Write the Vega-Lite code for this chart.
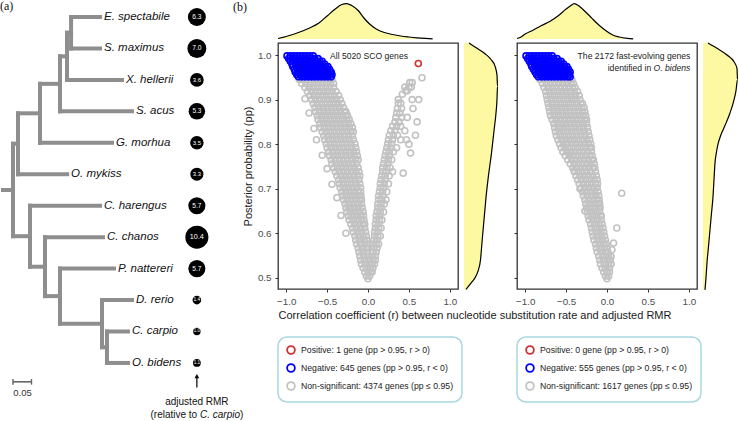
{
  "$schema": "https://vega.github.io/schema/vega-lite/v6.json",
  "padding": 0,
  "autosize": {"type": "pad"},
  "background": "white",
  "bounds": "flush",
  "spacing": 59,
  "resolve": {"scale": {"color": "independent", "size": "independent"}, "legend": {"color": "independent"}},
  "config": {
    "font": "Liberation Sans",
    "view": {"stroke": "#333333", "strokeWidth": 1.3},
    "axis": {"grid": false, "domain": false, "tickColor": "#333333", "tickSize": 3, "tickWidth": 1, "labelColor": "#4d4d4d", "labelFontSize": 9.8, "labelFont": "Liberation Sans", "labelPadding": 4, "labelFlush": false, "titleFont": "Liberation Sans", "titleFontSize": 11, "titleFontWeight": "normal", "titleColor": "#1a1a1a", "titlePadding": 4, "titleLimit": 700},
    "legend": {"orient": "none", "legendX": 0, "legendY": 294, "direction": "vertical", "title": null, "symbolType": "circle", "symbolSize": 60, "symbolStrokeWidth": 1.8, "labelFont": "Liberation Sans", "labelFontSize": 8.7, "labelColor": "#222222", "labelLimit": 400, "labelOffset": 5, "padding": 8, "rowPadding": 2, "strokeColor": "#a8d8e2", "strokeWidth": 1.5, "cornerRadius": 9, "fillColor": "white"}
  },
  "hconcat": [
    {
      "width": 219,
      "height": 246,
      "view": {"stroke": null},
      "resolve": {"scale": {"size": "independent"}},
      "layer": [
        {
          "data": {"values": [
            {"x": 0, "x2": 0.027, "y": 6.5, "y2": 6.5},
            {"x": 0.027, "x2": 0.027, "y": 5.03, "y2": 7.97},
            {"x": 0.027, "x2": 0.0405, "y": 5.03, "y2": 5.03},
            {"x": 0.0405, "x2": 0.0405, "y": 4.0625, "y2": 6},
            {"x": 0.0405, "x2": 0.1733, "y": 6, "y2": 6},
            {"x": 0.0405, "x2": 0.1, "y": 4.0625, "y2": 4.0625},
            {"x": 0.1, "x2": 0.1, "y": 3.125, "y2": 5},
            {"x": 0.1, "x2": 0.2946, "y": 5, "y2": 5},
            {"x": 0.1, "x2": 0.154, "y": 3.125, "y2": 3.125},
            {"x": 0.154, "x2": 0.154, "y": 2.25, "y2": 4},
            {"x": 0.154, "x2": 0.3486, "y": 4, "y2": 4},
            {"x": 0.154, "x2": 0.173, "y": 2.25, "y2": 2.25},
            {"x": 0.173, "x2": 0.173, "y": 1.5, "y2": 3},
            {"x": 0.173, "x2": 0.3216, "y": 3, "y2": 3},
            {"x": 0.173, "x2": 0.184, "y": 1.5, "y2": 1.5},
            {"x": 0.184, "x2": 0.184, "y": 1, "y2": 2},
            {"x": 0.184, "x2": 0.2622, "y": 1, "y2": 1},
            {"x": 0.184, "x2": 0.2622, "y": 2, "y2": 2},
            {"x": 0.027, "x2": 0.073, "y": 7.97, "y2": 7.97},
            {"x": 0.073, "x2": 0.073, "y": 7, "y2": 8.94},
            {"x": 0.073, "x2": 0.2622, "y": 7, "y2": 7},
            {"x": 0.073, "x2": 0.1135, "y": 8.94, "y2": 8.94},
            {"x": 0.1135, "x2": 0.1135, "y": 8, "y2": 9.875},
            {"x": 0.1135, "x2": 0.2703, "y": 8, "y2": 8},
            {"x": 0.1135, "x2": 0.154, "y": 9.875, "y2": 9.875},
            {"x": 0.154, "x2": 0.154, "y": 9, "y2": 10.75},
            {"x": 0.154, "x2": 0.3, "y": 9, "y2": 9},
            {"x": 0.154, "x2": 0.2676, "y": 10.75, "y2": 10.75},
            {"x": 0.2676, "x2": 0.2676, "y": 10, "y2": 11.5},
            {"x": 0.2676, "x2": 0.3486, "y": 10, "y2": 10},
            {"x": 0.2676, "x2": 0.281, "y": 11.5, "y2": 11.5},
            {"x": 0.281, "x2": 0.281, "y": 11, "y2": 12},
            {"x": 0.281, "x2": 0.3378, "y": 11, "y2": 11},
            {"x": 0.281, "x2": 0.3378, "y": 12, "y2": 12}
          ]},
          "mark": {"type": "rule", "color": "#8e8e8e", "strokeWidth": 4, "strokeCap": "square"},
          "encoding": {
            "x": {"field": "x", "type": "quantitative", "scale": {"domain": [-0.0081, 0.5838], "nice": false, "zero": false}, "axis": null},
            "x2": {"field": "x2"},
            "y": {"field": "y", "type": "quantitative", "scale": {"domain": [0.4594, 13.846], "range": [-43, 378], "nice": false, "zero": false}, "axis": null},
            "y2": {"field": "y2"}
          }
        },
        {
          "data": {"name": "species", "values": [
            {"name": "E. spectabile", "tip": 0.2622, "leaf": 1, "rmr": 6.3},
            {"name": "S. maximus", "tip": 0.2622, "leaf": 2, "rmr": 7.0},
            {"name": "X. hellerii", "tip": 0.3216, "leaf": 3, "rmr": 3.6},
            {"name": "S. acus", "tip": 0.3486, "leaf": 4, "rmr": 5.3},
            {"name": "G. morhua", "tip": 0.2946, "leaf": 5, "rmr": 3.5},
            {"name": "O. mykiss", "tip": 0.1733, "leaf": 6, "rmr": 3.3},
            {"name": "C. harengus", "tip": 0.2622, "leaf": 7, "rmr": 5.7},
            {"name": "C. chanos", "tip": 0.2703, "leaf": 8, "rmr": 10.4},
            {"name": "P. nattereri", "tip": 0.3, "leaf": 9, "rmr": 5.7},
            {"name": "D. rerio", "tip": 0.3486, "leaf": 10, "rmr": 1.4},
            {"name": "C. carpio", "tip": 0.3378, "leaf": 11, "rmr": 1.0},
            {"name": "O. bidens", "tip": 0.3378, "leaf": 12, "rmr": 1.1}
          ]},
          "layer": [
            {
              "mark": {"type": "text", "align": "left", "baseline": "middle", "dx": 4, "fontSize": 11.5, "fontStyle": "italic", "color": "#111111"},
              "encoding": {
                "x": {"field": "tip", "type": "quantitative", "axis": null},
                "y": {"field": "leaf", "type": "quantitative", "axis": null},
                "text": {"field": "name"}
              }
            },
            {
              "mark": {"type": "point", "filled": true, "color": "black", "opacity": 1},
              "encoding": {
                "x": {"datum": 0.524, "type": "quantitative", "axis": null},
                "y": {"field": "leaf", "type": "quantitative", "axis": null},
                "size": {"field": "rmr", "type": "quantitative", "scale": {"type": "linear", "domain": [1, 10.4], "range": [55, 530], "zero": false}, "legend": null}
              }
            }
          ]
        },
        {
          "data": {"name": "species"},
          "mark": {"type": "text", "align": "center", "baseline": "middle", "color": "white"},
          "encoding": {
            "x": {"datum": 0.524, "type": "quantitative", "axis": null},
            "y": {"field": "leaf", "type": "quantitative", "axis": null},
            "text": {"field": "rmr", "format": ".1f"},
            "size": {"field": "rmr", "type": "quantitative", "scale": {"type": "log", "domain": [1, 10.4], "range": [4.5, 7.2]}, "legend": null}
          }
        },
        {
          "data": {"values": [{}]},
          "layer": [
            {"mark": {"type": "rule", "color": "#666666", "strokeWidth": 1.6},
             "encoding": {"x": {"datum": 0.027, "type": "quantitative", "axis": null}, "x2": {"datum": 0.077}, "y": {"datum": 12.6, "type": "quantitative", "axis": null}}},
            {"mark": {"type": "rule", "color": "#666666", "strokeWidth": 1.4},
             "encoding": {"x": {"datum": 0.027, "type": "quantitative", "axis": null}, "y": {"datum": 12.51, "type": "quantitative", "axis": null}, "y2": {"datum": 12.69}}},
            {"mark": {"type": "rule", "color": "#666666", "strokeWidth": 1.4},
             "encoding": {"x": {"datum": 0.077, "type": "quantitative", "axis": null}, "y": {"datum": 12.51, "type": "quantitative", "axis": null}, "y2": {"datum": 12.69}}},
            {"mark": {"type": "text", "text": "0.05", "fontSize": 9.5, "align": "center", "baseline": "middle", "color": "#333333"},
             "encoding": {"x": {"datum": 0.0527, "type": "quantitative", "axis": null}, "y": {"datum": 12.95, "type": "quantitative", "axis": null}}},
            {"mark": {"type": "rule", "color": "black", "strokeWidth": 1.2},
             "encoding": {"x": {"datum": 0.524, "type": "quantitative", "axis": null}, "y": {"datum": 12.45, "type": "quantitative", "axis": null}, "y2": {"datum": 12.78}}},
            {"mark": {"type": "point", "shape": "triangle-up", "filled": true, "color": "black", "opacity": 1, "size": 22},
             "encoding": {"x": {"datum": 0.524, "type": "quantitative", "axis": null}, "y": {"datum": 12.42, "type": "quantitative", "axis": null}}},
            {"mark": {"type": "text", "text": "adjusted RMR", "fontSize": 10, "align": "center", "baseline": "middle", "color": "#111111"},
             "encoding": {"x": {"datum": 0.524, "type": "quantitative", "axis": null}, "y": {"datum": 13.23, "type": "quantitative", "axis": null}}},
            {"mark": {"type": "text", "text": "(relative to ", "fontSize": 10, "align": "left", "baseline": "middle", "dx": -46.4, "color": "#111111"},
             "encoding": {"x": {"datum": 0.524, "type": "quantitative", "axis": null}, "y": {"datum": 13.65, "type": "quantitative", "axis": null}}},
            {"mark": {"type": "text", "text": "C. carpio", "fontSize": 10, "fontStyle": "italic", "align": "left", "baseline": "middle", "dx": 3.1, "color": "#111111"},
             "encoding": {"x": {"datum": 0.524, "type": "quantitative", "axis": null}, "y": {"datum": 13.65, "type": "quantitative", "axis": null}}},
            {"mark": {"type": "text", "text": ")", "fontSize": 10, "align": "left", "baseline": "middle", "dx": 43.1, "color": "#111111"},
             "encoding": {"x": {"datum": 0.524, "type": "quantitative", "axis": null}, "y": {"datum": 13.65, "type": "quantitative", "axis": null}}},
            {"mark": {"type": "text", "text": "(a)", "font": "Liberation Serif", "fontSize": 12, "align": "left", "baseline": "middle", "color": "#111111"},
             "encoding": {"x": {"datum": -0.0081, "type": "quantitative", "axis": null}, "y": {"datum": 0.66, "type": "quantitative", "axis": null}}},
            {"mark": {"type": "text", "text": "(b)", "font": "Liberation Serif", "fontSize": 12, "align": "left", "baseline": "middle", "color": "#111111"},
             "encoding": {"x": {"datum": 0.6216, "type": "quantitative", "axis": null}, "y": {"datum": 0.69, "type": "quantitative", "axis": null}}}
          ]
        }
      ]
    },
    {
      "width": 180,
      "height": 246,
      "resolve": {"scale": {"x": "independent", "y": "independent"}},
      "layer": [
        {
          "data": {"values": [
            {"r": -1.1, "density": 0.5}, {"r": -1.0, "density": 2.5}, {"r": -0.9, "density": 5}, {"r": -0.8, "density": 8},
            {"r": -0.7, "density": 11.5}, {"r": -0.6, "density": 16}, {"r": -0.5, "density": 23}, {"r": -0.4, "density": 30},
            {"r": -0.32, "density": 34.5}, {"r": -0.26, "density": 35.3}, {"r": -0.2, "density": 33.5}, {"r": -0.12, "density": 28.5},
            {"r": -0.05, "density": 21}, {"r": 0.02, "density": 15}, {"r": 0.1, "density": 10}, {"r": 0.2, "density": 6.5},
            {"r": 0.3, "density": 4.5}, {"r": 0.4, "density": 3}, {"r": 0.5, "density": 2}, {"r": 0.6, "density": 1.2},
            {"r": 0.7, "density": 0.6}, {"r": 0.79, "density": 0.2}
          ]},
          "encoding": {
            "x": {"field": "r", "type": "quantitative", "scale": {"domain": [-1.1, 1.1], "nice": false, "zero": false}, "axis": null},
            "y": {"field": "density", "type": "quantitative", "scale": {"domain": [0, 36], "range": [-4, -40], "nice": false}, "axis": null}
          },
          "layer": [
            {"mark": {"type": "area", "color": "#fdf9a2", "interpolate": "monotone"}},
            {"mark": {"type": "line", "color": "black", "strokeWidth": 1.2, "interpolate": "monotone"}}
          ]
        },
        {
          "data": {"values": [
            {"pp": 1.027, "density": 5}, {"pp": 1.015, "density": 13}, {"pp": 1.003, "density": 21}, {"pp": 0.99, "density": 27},
            {"pp": 0.975, "density": 31}, {"pp": 0.955, "density": 33}, {"pp": 0.93, "density": 33.5}, {"pp": 0.9, "density": 33},
            {"pp": 0.87, "density": 32}, {"pp": 0.83, "density": 30}, {"pp": 0.78, "density": 27.5}, {"pp": 0.73, "density": 24.5},
            {"pp": 0.68, "density": 22}, {"pp": 0.63, "density": 20}, {"pp": 0.58, "density": 18}, {"pp": 0.54, "density": 16.5},
            {"pp": 0.515, "density": 14}, {"pp": 0.5, "density": 11}, {"pp": 0.488, "density": 7}, {"pp": 0.474, "density": 2}
          ]},
          "encoding": {
            "y": {"field": "pp", "type": "quantitative", "scale": {"domain": [0.475, 1.027], "nice": false, "zero": false}, "axis": null},
            "x": {"field": "density", "type": "quantitative", "scale": {"domain": [0, 36], "range": [186, 222], "nice": false}, "axis": null}
          },
          "layer": [
            {"mark": {"type": "area", "orient": "horizontal", "color": "#fdf9a2", "interpolate": "monotone"}},
            {"mark": {"type": "line", "orient": "horizontal", "color": "black", "strokeWidth": 1.2, "interpolate": "monotone"}, "encoding": {"order": {"field": "pp", "type": "quantitative"}}}
          ]
        },
        {
          "data": {
            "values": "r,pp,c\n-.84,.945,S\n-.79,.945,S\n-.74,.945,S\n-.69,.945,S\n-.64,.945,S\n-.59,.945,S\n-.54,.945,S\n-.49,.945,S\n-.44,.945,S\n-.81,.936,S\n-.76,.936,S\n-.71,.936,S\n-.66,.936,S\n-.61,.936,S\n-.56,.936,S\n-.51,.936,S\n-.46,.936,S\n-.42,.936,S\n-.77,.927,S\n-.72,.927,S\n-.67,.927,S\n-.62,.927,S\n-.57,.927,S\n-.52,.927,S\n-.47,.927,S\n-.42,.927,S\n-.74,.918,S\n-.69,.918,S\n-.64,.918,S\n-.59,.918,S\n-.54,.918,S\n-.49,.918,S\n-.44,.918,S\n-.39,.918,S\n-.71,.909,S\n-.66,.909,S\n-.61,.909,S\n-.56,.909,S\n-.51,.909,S\n-.46,.909,S\n-.41,.909,S\n-.36,.909,S\n-.69,.9,S\n-.64,.9,S\n-.59,.9,S\n-.54,.9,S\n-.49,.9,S\n-.44,.9,S\n-.39,.9,S\n-.34,.9,S\n-.67,.891,S\n-.62,.891,S\n-.57,.891,S\n-.52,.891,S\n-.47,.891,S\n-.42,.891,S\n-.37,.891,S\n-.32,.891,S\n-.65,.882,S\n-.6,.882,S\n-.55,.882,S\n-.5,.882,S\n-.45,.882,S\n-.4,.882,S\n-.35,.882,S\n-.3,.882,S\n-.64,.873,S\n-.59,.873,S\n-.54,.873,S\n-.49,.873,S\n-.44,.873,S\n-.39,.873,S\n-.34,.873,S\n-.29,.873,S\n-.27,.873,S\n-.62,.864,S\n-.57,.864,S\n-.52,.864,S\n-.47,.864,S\n-.42,.864,S\n-.37,.864,S\n-.32,.864,S\n-.27,.864,S\n-.25,.864,S\n-.61,.855,S\n-.56,.855,S\n-.51,.855,S\n-.46,.855,S\n-.41,.855,S\n-.36,.855,S\n-.31,.855,S\n-.26,.855,S\n-.23,.855,S\n-.59,.846,S\n-.54,.846,S\n-.49,.846,S\n-.44,.846,S\n-.39,.846,S\n-.34,.846,S\n-.29,.846,S\n-.24,.846,S\n-.21,.846,S\n-.58,.837,S\n-.53,.837,S\n-.48,.837,S\n-.43,.837,S\n-.38,.837,S\n-.33,.837,S\n-.28,.837,S\n-.23,.837,S\n-.19,.837,S\n-.56,.828,S\n-.51,.828,S\n-.46,.828,S\n-.41,.828,S\n-.36,.828,S\n-.31,.828,S\n-.26,.828,S\n-.21,.828,S\n-.18,.828,S\n-.54,.819,S\n-.49,.819,S\n-.44,.819,S\n-.39,.819,S\n-.34,.819,S\n-.29,.819,S\n-.24,.819,S\n-.19,.819,S\n-.53,.81,S\n-.48,.81,S\n-.43,.81,S\n-.38,.81,S\n-.33,.81,S\n-.28,.81,S\n-.23,.81,S\n-.18,.81,S\n-.51,.801,S\n-.46,.801,S\n-.41,.801,S\n-.36,.801,S\n-.31,.801,S\n-.26,.801,S\n-.21,.801,S\n-.16,.801,S\n-.5,.792,S\n-.45,.792,S\n-.4,.792,S\n-.35,.792,S\n-.3,.792,S\n-.25,.792,S\n-.2,.792,S\n-.15,.792,S\n-.48,.783,S\n-.43,.783,S\n-.38,.783,S\n-.33,.783,S\n-.28,.783,S\n-.23,.783,S\n-.18,.783,S\n-.14,.783,S\n-.47,.774,S\n-.42,.774,S\n-.37,.774,S\n-.32,.774,S\n-.27,.774,S\n-.22,.774,S\n-.17,.774,S\n-.13,.774,S\n-.45,.765,S\n-.4,.765,S\n-.35,.765,S\n-.3,.765,S\n-.25,.765,S\n-.2,.765,S\n-.15,.765,S\n-.12,.765,S\n-.44,.756,S\n-.39,.756,S\n-.34,.756,S\n-.29,.756,S\n-.24,.756,S\n-.19,.756,S\n-.14,.756,S\n-.42,.747,S\n-.37,.747,S\n-.32,.747,S\n-.27,.747,S\n-.22,.747,S\n-.17,.747,S\n-.12,.747,S\n-.4,.738,S\n-.35,.738,S\n-.3,.738,S\n-.25,.738,S\n-.2,.738,S\n-.15,.738,S\n-.11,.738,S\n-.38,.729,S\n-.33,.729,S\n-.28,.729,S\n-.23,.729,S\n-.18,.729,S\n-.13,.729,S\n-.1,.729,S\n-.36,.72,S\n-.31,.72,S\n-.26,.72,S\n-.21,.72,S\n-.16,.72,S\n-.11,.72,S\n-.35,.711,S\n-.3,.711,S\n-.25,.711,S\n-.2,.711,S\n-.15,.711,S\n-.1,.711,S\n-.34,.702,S\n-.29,.702,S\n-.24,.702,S\n-.19,.702,S\n-.14,.702,S\n-.09,.702,S\n-.32,.693,S\n-.27,.693,S\n-.22,.693,S\n-.17,.693,S\n-.12,.693,S\n-.09,.693,S\n-.31,.684,S\n-.26,.684,S\n-.21,.684,S\n-.16,.684,S\n-.11,.684,S\n-.085,.684,S\n-.3,.675,S\n-.25,.675,S\n-.2,.675,S\n-.15,.675,S\n-.1,.675,S\n-.08,.675,S\n-.28,.666,S\n-.23,.666,S\n-.18,.666,S\n-.13,.666,S\n-.08,.666,S\n-.27,.657,S\n-.22,.657,S\n-.17,.657,S\n-.12,.657,S\n-.07,.657,S\n-.26,.648,S\n-.21,.648,S\n-.16,.648,S\n-.11,.648,S\n-.06,.648,S\n-.24,.639,S\n-.19,.639,S\n-.14,.639,S\n-.09,.639,S\n-.055,.639,S\n-.23,.63,S\n-.18,.63,S\n-.13,.63,S\n-.08,.63,S\n-.05,.63,S\n-.21,.621,S\n-.16,.621,S\n-.11,.621,S\n-.06,.621,S\n-.04,.621,S\n-.19,.612,S\n-.14,.612,S\n-.09,.612,S\n-.04,.612,S\n-.18,.603,S\n-.13,.603,S\n-.08,.603,S\n-.03,.603,S\n-.16,.594,S\n-.11,.594,S\n-.06,.594,S\n-.02,.594,S\n-.15,.585,S\n-.1,.585,S\n-.05,.585,S\n-.015,.585,S\n-.14,.576,S\n-.09,.576,S\n-.04,.576,S\n0,.576,S\n-.12,.567,S\n-.07,.567,S\n-.02,.567,S\n.005,.567,S\n-.11,.558,S\n-.06,.558,S\n-.01,.558,S\n-.1,.549,S\n-.05,.549,S\n0,.549,S\n-.09,.54,S\n-.04,.54,S\n.01,.54,S\n-.08,.531,S\n-.03,.531,S\n.02,.531,S\n-.06,.522,S\n-.02,.522,S\n.03,.522,S\n-.04,.513,S\n0,.513,S\n.03,.513,S\n-.02,.504,S\n.02,.504,S\n0,.498,S\n-.77,.902,S\n-.72,.87,S\n-.66,.835,S\n-.63,.81,S\n-.56,.775,S\n-.5,.745,S\n-.44,.71,S\n-.38,.68,S\n-.33,.64,S\n-.27,.6,S\n.05,.513,S\n.06,.522,S\n.05,.531,S\n.08,.531,S\n.06,.54,S\n.09,.54,S\n.05,.549,S\n.09,.549,S\n.06,.558,S\n.1,.558,S\n.07,.567,S\n.11,.567,S\n.06,.576,S\n.1,.576,S\n.13,.576,S\n.07,.585,S\n.11,.585,S\n.08,.594,S\n.12,.594,S\n.15,.594,S\n.08,.603,S\n.12,.603,S\n.09,.612,S\n.13,.612,S\n.16,.612,S\n.09,.621,S\n.13,.621,S\n.1,.63,S\n.14,.63,S\n.17,.63,S\n.1,.639,S\n.14,.639,S\n.11,.648,S\n.15,.648,S\n.19,.648,S\n.12,.657,S\n.16,.657,S\n.12,.666,S\n.16,.666,S\n.2,.666,S\n.13,.675,S\n.17,.675,S\n.22,.675,S\n.13,.684,S\n.18,.684,S\n.14,.693,S\n.18,.693,S\n.23,.693,S\n.15,.702,S\n.19,.702,S\n.15,.711,S\n.2,.711,S\n.25,.711,S\n.16,.72,S\n.21,.72,S\n.17,.729,S\n.21,.729,S\n.26,.729,S\n.18,.738,S\n.22,.738,S\n.3,.738,S\n.18,.747,S\n.23,.747,S\n.27,.747,S\n.19,.756,S\n.24,.756,S\n.2,.765,S\n.25,.765,S\n.29,.765,S\n.21,.774,S\n.26,.774,S\n.22,.783,S\n.26,.783,S\n.31,.783,S\n.23,.792,S\n.28,.792,S\n.35,.792,S\n.24,.801,S\n.29,.801,S\n.25,.81,S\n.3,.81,S\n.4,.81,S\n.26,.82,S\n.31,.82,S\n.36,.82,S\n.58,.82,S\n.28,.83,S\n.33,.83,S\n.45,.83,S\n.3,.84,S\n.35,.84,S\n.4,.84,S\n.33,.85,S\n.38,.85,S\n.6,.85,S\n.34,.86,S\n.41,.86,S\n.48,.86,S\n.35,.87,S\n.39,.87,S\n.36,.88,S\n.41,.88,S\n.55,.88,S\n.37,.892,S\n.4,.892,S\n.37,.9,S\n.54,.9,S\n.62,.9,S\n.42,.912,S\n.46,.92,S\n.48,.92,S\n.45,.928,S\n.5,.928,S\n.53,.928,S\n.51,.938,S\n.54,.938,S\n.66,.949,S\n.43,.735,S\n.52,.78,S\n.47,.81,S\n.5,.8,S\n-.99,.998,N\n-.95,.998,N\n-.91,.998,N\n-.87,.998,N\n-.83,.998,N\n-.79,.998,N\n-.75,.998,N\n-.71,.998,N\n-.67,.998,N\n-.97,.992,N\n-.93,.992,N\n-.89,.992,N\n-.85,.992,N\n-.81,.992,N\n-.77,.992,N\n-.73,.992,N\n-.69,.992,N\n-.65,.992,N\n-.61,.992,N\n-.95,.986,N\n-.91,.986,N\n-.87,.986,N\n-.83,.986,N\n-.79,.986,N\n-.75,.986,N\n-.71,.986,N\n-.67,.986,N\n-.63,.986,N\n-.59,.986,N\n-.56,.986,N\n-.93,.98,N\n-.89,.98,N\n-.85,.98,N\n-.81,.98,N\n-.77,.98,N\n-.73,.98,N\n-.69,.98,N\n-.65,.98,N\n-.61,.98,N\n-.57,.98,N\n-.53,.98,N\n-.92,.974,N\n-.88,.974,N\n-.84,.974,N\n-.8,.974,N\n-.76,.974,N\n-.72,.974,N\n-.68,.974,N\n-.64,.974,N\n-.6,.974,N\n-.56,.974,N\n-.52,.974,N\n-.49,.974,N\n-.9,.968,N\n-.86,.968,N\n-.82,.968,N\n-.78,.968,N\n-.74,.968,N\n-.7,.968,N\n-.66,.968,N\n-.62,.968,N\n-.58,.968,N\n-.54,.968,N\n-.5,.968,N\n-.47,.968,N\n-.89,.962,N\n-.85,.962,N\n-.81,.962,N\n-.77,.962,N\n-.73,.962,N\n-.69,.962,N\n-.65,.962,N\n-.61,.962,N\n-.57,.962,N\n-.53,.962,N\n-.49,.962,N\n-.45,.962,N\n-.87,.956,N\n-.83,.956,N\n-.79,.956,N\n-.75,.956,N\n-.71,.956,N\n-.67,.956,N\n-.63,.956,N\n-.59,.956,N\n-.55,.956,N\n-.51,.956,N\n-.47,.956,N\n-.44,.956,N\n-.85,.951,N\n-.81,.951,N\n-.77,.951,N\n-.73,.951,N\n-.69,.951,N\n-.65,.951,N\n-.61,.951,N\n-.57,.951,N\n-.53,.951,N\n-.49,.951,N\n-.45,.951,N\n.615,.981,P",
            "format": {"type": "csv", "parse": {"r": "number", "pp": "number"}}
          },
          "layer": [
            {
              "mark": {"type": "point", "filled": false, "size": 36, "strokeWidth": 1.6, "opacity": 1},
              "encoding": {
                "x": {"field": "r", "type": "quantitative", "scale": {"domain": [-1.1, 1.1], "nice": false, "zero": false},
                      "axis": {"values": [-1, -0.5, 0, 0.5, 1], "format": ".1f", "title": "Correlation coefficient (r) between nucleotide substitution rate and adjusted RMR", "titleAnchor": "start"}},
                "y": {"field": "pp", "type": "quantitative", "scale": {"domain": [0.475, 1.027], "nice": false, "zero": false},
                      "axis": {"values": [0.5, 0.6, 0.7, 0.8, 0.9, 1.0], "format": ".1f", "title": "Posterior probability (pp)"}},
                "color": {"field": "c", "type": "nominal", "scale": {"domain": ["P", "N", "S"], "range": ["#cc3333", "#0000ff", "#c2c2c2"]},
                          "legend": {"labelExpr": "{'P': 'Positive: 1 gene (pp > 0.95, r > 0)', 'N': 'Negative: 645 genes (pp > 0.95, r < 0)', 'S': 'Non-significant: 4374 genes (pp ≤ 0.95)'}[datum.value]"}}
              }
            },
            {
              "data": {"values": [{}]},
              "mark": {"type": "text", "text": "All 5020 SCO genes", "fontSize": 8.6, "align": "center", "baseline": "middle", "color": "#222222"},
              "encoding": {"x": {"datum": 0.0125, "type": "quantitative"}, "y": {"datum": 0.9985, "type": "quantitative"}}
            }
          ]
        }
      ]
    },
    {
      "width": 180,
      "height": 246,
      "resolve": {"scale": {"x": "independent", "y": "independent"}},
      "layer": [
        {
          "data": {"values": [
            {"r": -1.1, "density": 0.5}, {"r": -1.05, "density": 2}, {"r": -1.0, "density": 5}, {"r": -0.9, "density": 9},
            {"r": -0.8, "density": 13.5}, {"r": -0.7, "density": 17.5}, {"r": -0.6, "density": 23}, {"r": -0.5, "density": 30},
            {"r": -0.45, "density": 33}, {"r": -0.4, "density": 35.3}, {"r": -0.35, "density": 33.5}, {"r": -0.3, "density": 30},
            {"r": -0.2, "density": 22}, {"r": -0.1, "density": 14}, {"r": 0.0, "density": 7.5}, {"r": 0.07, "density": 4},
            {"r": 0.15, "density": 2}, {"r": 0.25, "density": 0.7}, {"r": 0.32, "density": 0.2}
          ]},
          "encoding": {
            "x": {"field": "r", "type": "quantitative", "scale": {"domain": [-1.1, 1.1], "nice": false, "zero": false}, "axis": null},
            "y": {"field": "density", "type": "quantitative", "scale": {"domain": [0, 36], "range": [-4, -40], "nice": false}, "axis": null}
          },
          "layer": [
            {"mark": {"type": "area", "color": "#fdf9a2", "interpolate": "monotone"}},
            {"mark": {"type": "line", "color": "black", "strokeWidth": 1.2, "interpolate": "monotone"}}
          ]
        },
        {
          "data": {"values": [
            {"pp": 1.027, "density": 5}, {"pp": 1.015, "density": 14}, {"pp": 1.0, "density": 24}, {"pp": 0.985, "density": 31},
            {"pp": 0.97, "density": 34}, {"pp": 0.945, "density": 34.5}, {"pp": 0.92, "density": 33}, {"pp": 0.895, "density": 30.5},
            {"pp": 0.87, "density": 27}, {"pp": 0.85, "density": 23.5}, {"pp": 0.832, "density": 20}, {"pp": 0.815, "density": 17},
            {"pp": 0.8, "density": 15}, {"pp": 0.78, "density": 13.3}, {"pp": 0.758, "density": 12}, {"pp": 0.72, "density": 11},
            {"pp": 0.682, "density": 10}, {"pp": 0.645, "density": 8.5}, {"pp": 0.608, "density": 7}, {"pp": 0.57, "density": 5.5},
            {"pp": 0.534, "density": 4}, {"pp": 0.5, "density": 3}, {"pp": 0.473, "density": 2}
          ]},
          "encoding": {
            "y": {"field": "pp", "type": "quantitative", "scale": {"domain": [0.475, 1.027], "nice": false, "zero": false}, "axis": null},
            "x": {"field": "density", "type": "quantitative", "scale": {"domain": [0, 36], "range": [186, 222], "nice": false}, "axis": null}
          },
          "layer": [
            {"mark": {"type": "area", "orient": "horizontal", "color": "#fdf9a2", "interpolate": "monotone"}},
            {"mark": {"type": "line", "orient": "horizontal", "color": "black", "strokeWidth": 1.2, "interpolate": "monotone"}, "encoding": {"order": {"field": "pp", "type": "quantitative"}}}
          ]
        },
        {
          "data": {
            "values": "r,pp,c\n-.82,.945,S\n-.77,.945,S\n-.72,.945,S\n-.67,.945,S\n-.62,.945,S\n-.57,.945,S\n-.52,.945,S\n-.47,.945,S\n-.43,.945,S\n-.79,.936,S\n-.74,.936,S\n-.69,.936,S\n-.64,.936,S\n-.59,.936,S\n-.54,.936,S\n-.49,.936,S\n-.44,.936,S\n-.41,.936,S\n-.77,.927,S\n-.72,.927,S\n-.67,.927,S\n-.62,.927,S\n-.57,.927,S\n-.52,.927,S\n-.47,.927,S\n-.42,.927,S\n-.39,.927,S\n-.75,.918,S\n-.7,.918,S\n-.65,.918,S\n-.6,.918,S\n-.55,.918,S\n-.5,.918,S\n-.45,.918,S\n-.4,.918,S\n-.36,.918,S\n-.74,.909,S\n-.69,.909,S\n-.64,.909,S\n-.59,.909,S\n-.54,.909,S\n-.49,.909,S\n-.44,.909,S\n-.39,.909,S\n-.34,.909,S\n-.73,.9,S\n-.68,.9,S\n-.63,.9,S\n-.58,.9,S\n-.53,.9,S\n-.48,.9,S\n-.43,.9,S\n-.38,.9,S\n-.33,.9,S\n-.72,.891,S\n-.67,.891,S\n-.62,.891,S\n-.57,.891,S\n-.52,.891,S\n-.47,.891,S\n-.42,.891,S\n-.37,.891,S\n-.32,.891,S\n-.3,.891,S\n-.71,.882,S\n-.66,.882,S\n-.61,.882,S\n-.56,.882,S\n-.51,.882,S\n-.46,.882,S\n-.41,.882,S\n-.36,.882,S\n-.31,.882,S\n-.28,.882,S\n-.7,.873,S\n-.65,.873,S\n-.6,.873,S\n-.55,.873,S\n-.5,.873,S\n-.45,.873,S\n-.4,.873,S\n-.35,.873,S\n-.3,.873,S\n-.27,.873,S\n-.69,.864,S\n-.64,.864,S\n-.59,.864,S\n-.54,.864,S\n-.49,.864,S\n-.44,.864,S\n-.39,.864,S\n-.34,.864,S\n-.29,.864,S\n-.26,.864,S\n-.67,.855,S\n-.62,.855,S\n-.57,.855,S\n-.52,.855,S\n-.47,.855,S\n-.42,.855,S\n-.37,.855,S\n-.32,.855,S\n-.27,.855,S\n-.25,.855,S\n-.65,.846,S\n-.6,.846,S\n-.55,.846,S\n-.5,.846,S\n-.45,.846,S\n-.4,.846,S\n-.35,.846,S\n-.3,.846,S\n-.25,.846,S\n-.64,.837,S\n-.59,.837,S\n-.54,.837,S\n-.49,.837,S\n-.44,.837,S\n-.39,.837,S\n-.34,.837,S\n-.29,.837,S\n-.24,.837,S\n-.63,.828,S\n-.58,.828,S\n-.53,.828,S\n-.48,.828,S\n-.43,.828,S\n-.38,.828,S\n-.33,.828,S\n-.28,.828,S\n-.23,.828,S\n-.62,.819,S\n-.57,.819,S\n-.52,.819,S\n-.47,.819,S\n-.42,.819,S\n-.37,.819,S\n-.32,.819,S\n-.27,.819,S\n-.22,.819,S\n-.6,.81,S\n-.55,.81,S\n-.5,.81,S\n-.45,.81,S\n-.4,.81,S\n-.35,.81,S\n-.3,.81,S\n-.25,.81,S\n-.21,.81,S\n-.58,.801,S\n-.53,.801,S\n-.48,.801,S\n-.43,.801,S\n-.38,.801,S\n-.33,.801,S\n-.28,.801,S\n-.23,.801,S\n-.2,.801,S\n-.56,.792,S\n-.51,.792,S\n-.46,.792,S\n-.41,.792,S\n-.36,.792,S\n-.31,.792,S\n-.26,.792,S\n-.21,.792,S\n-.19,.792,S\n-.54,.783,S\n-.49,.783,S\n-.44,.783,S\n-.39,.783,S\n-.34,.783,S\n-.29,.783,S\n-.24,.783,S\n-.19,.783,S\n-.51,.774,S\n-.46,.774,S\n-.41,.774,S\n-.36,.774,S\n-.31,.774,S\n-.26,.774,S\n-.21,.774,S\n-.18,.774,S\n-.48,.765,S\n-.43,.765,S\n-.38,.765,S\n-.33,.765,S\n-.28,.765,S\n-.23,.765,S\n-.18,.765,S\n-.165,.765,S\n-.45,.756,S\n-.4,.756,S\n-.35,.756,S\n-.3,.756,S\n-.25,.756,S\n-.2,.756,S\n-.155,.756,S\n-.42,.747,S\n-.37,.747,S\n-.32,.747,S\n-.27,.747,S\n-.22,.747,S\n-.17,.747,S\n-.15,.747,S\n-.4,.738,S\n-.35,.738,S\n-.3,.738,S\n-.25,.738,S\n-.2,.738,S\n-.14,.738,S\n-.38,.729,S\n-.33,.729,S\n-.28,.729,S\n-.23,.729,S\n-.18,.729,S\n-.13,.729,S\n-.36,.72,S\n-.31,.72,S\n-.26,.72,S\n-.21,.72,S\n-.16,.72,S\n-.12,.72,S\n-.34,.711,S\n-.29,.711,S\n-.24,.711,S\n-.19,.711,S\n-.14,.711,S\n-.115,.711,S\n-.32,.702,S\n-.27,.702,S\n-.22,.702,S\n-.17,.702,S\n-.12,.702,S\n-.3,.693,S\n-.25,.693,S\n-.2,.693,S\n-.15,.693,S\n-.11,.693,S\n-.29,.684,S\n-.24,.684,S\n-.19,.684,S\n-.14,.684,S\n-.1,.684,S\n-.27,.675,S\n-.22,.675,S\n-.17,.675,S\n-.12,.675,S\n-.095,.675,S\n-.26,.666,S\n-.21,.666,S\n-.16,.666,S\n-.11,.666,S\n-.09,.666,S\n-.25,.657,S\n-.2,.657,S\n-.15,.657,S\n-.1,.657,S\n-.085,.657,S\n-.24,.648,S\n-.19,.648,S\n-.14,.648,S\n-.09,.648,S\n-.23,.639,S\n-.18,.639,S\n-.13,.639,S\n-.08,.639,S\n-.07,.639,S\n-.22,.63,S\n-.17,.63,S\n-.12,.63,S\n-.07,.63,S\n-.2,.621,S\n-.15,.621,S\n-.1,.621,S\n-.06,.621,S\n-.19,.612,S\n-.14,.612,S\n-.09,.612,S\n-.05,.612,S\n-.18,.603,S\n-.13,.603,S\n-.08,.603,S\n-.04,.603,S\n-.17,.594,S\n-.12,.594,S\n-.07,.594,S\n-.03,.594,S\n-.16,.585,S\n-.11,.585,S\n-.06,.585,S\n-.02,.585,S\n-.14,.576,S\n-.09,.576,S\n-.04,.576,S\n-.01,.576,S\n-.13,.567,S\n-.08,.567,S\n-.03,.567,S\n0,.567,S\n-.12,.558,S\n-.07,.558,S\n-.02,.558,S\n.01,.558,S\n-.1,.549,S\n-.05,.549,S\n0,.549,S\n.02,.549,S\n-.09,.54,S\n-.04,.54,S\n.01,.54,S\n.04,.54,S\n-.08,.531,S\n-.03,.531,S\n.02,.531,S\n.05,.531,S\n-.06,.522,S\n-.02,.522,S\n.03,.522,S\n-.04,.513,S\n0,.513,S\n.03,.513,S\n-.02,.504,S\n.02,.504,S\n0,.498,S\n.18,.69,S\n.12,.612,S\n.08,.578,S\n.06,.563,S\n.05,.548,S\n-.58,.836,S\n-.5,.8,S\n-.45,.78,S\n-.4,.74,S\n-.33,.7,S\n-.27,.65,S\n-.99,.998,N\n-.95,.998,N\n-.91,.998,N\n-.87,.998,N\n-.83,.998,N\n-.79,.998,N\n-.75,.998,N\n-.71,.998,N\n-.67,.998,N\n-.97,.992,N\n-.93,.992,N\n-.89,.992,N\n-.85,.992,N\n-.81,.992,N\n-.77,.992,N\n-.73,.992,N\n-.69,.992,N\n-.65,.992,N\n-.61,.992,N\n-.95,.986,N\n-.91,.986,N\n-.87,.986,N\n-.83,.986,N\n-.79,.986,N\n-.75,.986,N\n-.71,.986,N\n-.67,.986,N\n-.63,.986,N\n-.59,.986,N\n-.56,.986,N\n-.93,.98,N\n-.89,.98,N\n-.85,.98,N\n-.81,.98,N\n-.77,.98,N\n-.73,.98,N\n-.69,.98,N\n-.65,.98,N\n-.61,.98,N\n-.57,.98,N\n-.53,.98,N\n-.92,.974,N\n-.88,.974,N\n-.84,.974,N\n-.8,.974,N\n-.76,.974,N\n-.72,.974,N\n-.68,.974,N\n-.64,.974,N\n-.6,.974,N\n-.56,.974,N\n-.52,.974,N\n-.49,.974,N\n-.9,.968,N\n-.86,.968,N\n-.82,.968,N\n-.78,.968,N\n-.74,.968,N\n-.7,.968,N\n-.66,.968,N\n-.62,.968,N\n-.58,.968,N\n-.54,.968,N\n-.5,.968,N\n-.47,.968,N\n-.88,.962,N\n-.84,.962,N\n-.8,.962,N\n-.76,.962,N\n-.72,.962,N\n-.68,.962,N\n-.64,.962,N\n-.6,.962,N\n-.56,.962,N\n-.52,.962,N\n-.48,.962,N\n-.45,.962,N\n-.86,.956,N\n-.82,.956,N\n-.78,.956,N\n-.74,.956,N\n-.7,.956,N\n-.66,.956,N\n-.62,.956,N\n-.58,.956,N\n-.54,.956,N\n-.5,.956,N\n-.46,.956,N\n-.84,.951,N\n-.8,.951,N\n-.76,.951,N\n-.72,.951,N\n-.68,.951,N\n-.64,.951,N\n-.6,.951,N\n-.56,.951,N\n-.52,.951,N\n-.48,.951,N\n-.45,.951,N",
            "format": {"type": "csv", "parse": {"r": "number", "pp": "number"}}
          },
          "layer": [
            {
              "mark": {"type": "point", "filled": false, "size": 36, "strokeWidth": 1.6, "opacity": 1},
              "encoding": {
                "x": {"field": "r", "type": "quantitative", "scale": {"domain": [-1.1, 1.1], "nice": false, "zero": false},
                      "axis": {"values": [-1, -0.5, 0, 0.5, 1], "format": ".1f", "title": null}},
                "y": {"field": "pp", "type": "quantitative", "scale": {"domain": [0.475, 1.027], "nice": false, "zero": false},
                      "axis": {"values": [0.5, 0.6, 0.7, 0.8, 0.9, 1.0], "labels": false, "title": null}},
                "color": {"field": "c", "type": "nominal", "scale": {"domain": ["P", "N", "S"], "range": ["#cc3333", "#0000ff", "#c2c2c2"]},
                          "legend": {"labelExpr": "{'P': 'Positive: 0 gene (pp > 0.95, r > 0)', 'N': 'Negative: 555 genes (pp > 0.95, r < 0)', 'S': 'Non-significant: 1617 genes (pp ≤ 0.95)'}[datum.value]"}}
              }
            },
            {
              "data": {"values": [{}]},
              "mark": {"type": "text", "text": "The 2172 fast-evolving genes", "fontSize": 8.6, "align": "right", "baseline": "middle", "color": "#222222"},
              "encoding": {"x": {"datum": 1.019, "type": "quantitative"}, "y": {"datum": 0.997, "type": "quantitative"}}
            },
            {
              "data": {"values": [{}]},
              "mark": {"type": "text", "text": "identified in", "fontSize": 8.6, "align": "right", "baseline": "middle", "dx": -39.2, "color": "#222222"},
              "encoding": {"x": {"datum": 1.019, "type": "quantitative"}, "y": {"datum": 0.971, "type": "quantitative"}}
            },
            {
              "data": {"values": [{}]},
              "mark": {"type": "text", "text": "O. bidens", "fontSize": 8.6, "fontStyle": "italic", "align": "right", "baseline": "middle", "color": "#222222"},
              "encoding": {"x": {"datum": 1.019, "type": "quantitative"}, "y": {"datum": 0.971, "type": "quantitative"}}
            }
          ]
        }
      ]
    }
  ]
}
